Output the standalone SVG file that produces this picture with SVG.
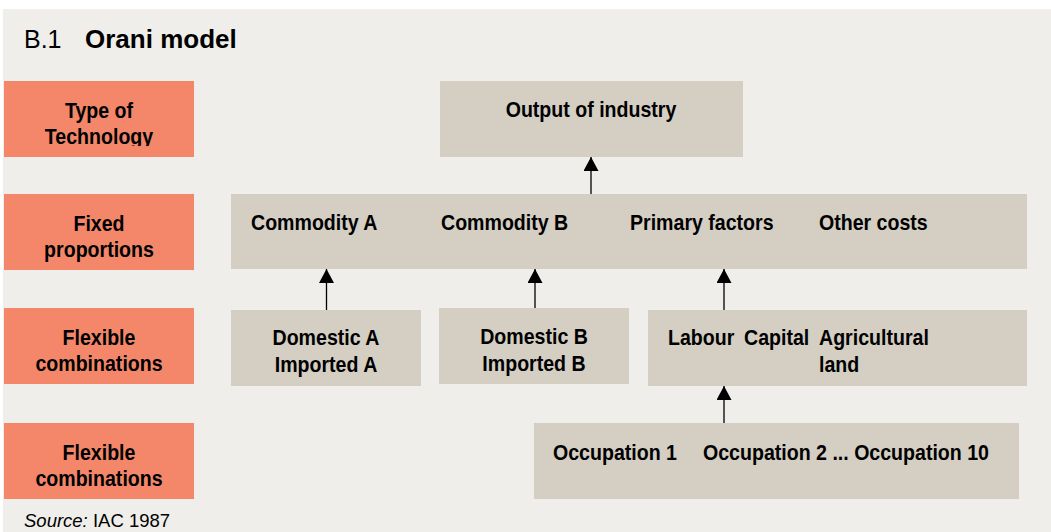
<svg xmlns="http://www.w3.org/2000/svg" width="1051" height="532" viewBox="0 0 1051 532">
  <style>
    text { font-family: "Liberation Sans", Arial, sans-serif; fill: #000; }
    .b { font-weight: bold; font-size: 22px; }
    .mid { text-anchor: middle; }
    .tier { fill: #f4876a; }
    .box { fill: #d4cec3; }
    .link { stroke: #000; stroke-width: 1.3; fill: none; marker-end: url(#head); }
  </style>
  <defs>
    <marker id="head" markerUnits="userSpaceOnUse" markerWidth="15" markerHeight="15" viewBox="0 0 14 15" refX="14" refY="7.5" orient="auto">
      <path d="M0,0 L14,7.5 L0,15 Z" fill="#000"/>
    </marker>
    <clipPath id="cut1">
      <rect x="4" y="81" width="190" height="65"/>
    </clipPath>
  </defs>

  <!-- panel -->
  <rect x="0" y="0" width="1051" height="532" fill="#ffffff"/>
  <rect x="3" y="9" width="1048" height="523" fill="#efeeea"/>

  <!-- title -->
  <text x="24" y="48" font-size="25">B.1</text>
  <text x="85" y="48" font-size="26" font-weight="bold">Orani model</text>

  <!-- tier labels (narrow bold type: x-scaled) -->
  <g id="tier-technology">
    <rect class="tier" x="4" y="81" width="190" height="76"/>
    <g clip-path="url(#cut1)">
      <text class="b mid" transform="translate(99,118) scale(0.89,1)">Type of</text>
      <text class="b mid" transform="translate(99,144) scale(0.89,1)">Technology</text>
    </g>
  </g>
  <g id="tier-fixed">
    <rect class="tier" x="4" y="194" width="190" height="76"/>
    <text class="b mid" transform="translate(99,231) scale(0.89,1)">Fixed</text>
    <text class="b mid" transform="translate(99,257) scale(0.89,1)">proportions</text>
  </g>
  <g id="tier-flexible-1">
    <rect class="tier" x="4" y="308" width="190" height="76"/>
    <text class="b mid" transform="translate(99,345) scale(0.89,1)">Flexible</text>
    <text class="b mid" transform="translate(99,371) scale(0.89,1)">combinations</text>
  </g>
  <g id="tier-flexible-2">
    <rect class="tier" x="4" y="423" width="190" height="76"/>
    <text class="b mid" transform="translate(99,460) scale(0.89,1)">Flexible</text>
    <text class="b mid" transform="translate(99,486) scale(0.89,1)">combinations</text>
  </g>

  <!-- nodes -->
  <g id="output">
    <rect class="box" x="440" y="81" width="303" height="76"/>
    <text class="b mid" transform="translate(591,117) scale(0.89,1)">Output of industry</text>
  </g>
  <g id="inputs">
    <rect class="box" x="231" y="194" width="796" height="75"/>
    <text class="b" transform="translate(251,230) scale(0.89,1)">Commodity A</text>
    <text class="b" transform="translate(441,230) scale(0.89,1)">Commodity B</text>
    <text class="b" transform="translate(630,230) scale(0.89,1)">Primary factors</text>
    <text class="b" transform="translate(819,230) scale(0.89,1)">Other costs</text>
  </g>
  <g id="commodity-a">
    <rect class="box" x="231" y="310" width="190" height="76"/>
    <text class="b mid" transform="translate(326,345) scale(0.89,1)">Domestic A</text>
    <text class="b mid" transform="translate(326,372) scale(0.89,1)">Imported A</text>
  </g>
  <g id="commodity-b">
    <rect class="box" x="439" y="308" width="190" height="76"/>
    <text class="b mid" transform="translate(534,344) scale(0.89,1)">Domestic B</text>
    <text class="b mid" transform="translate(534,371) scale(0.89,1)">Imported B</text>
  </g>
  <g id="primary-factors">
    <rect class="box" x="648" y="310" width="379" height="76"/>
    <text class="b" transform="translate(668,345) scale(0.89,1)">Labour</text>
    <text class="b" transform="translate(744,345) scale(0.89,1)">Capital</text>
    <text class="b" transform="translate(819,345) scale(0.89,1)">Agricultural</text>
    <text class="b" transform="translate(819,372) scale(0.89,1)">land</text>
  </g>
  <g id="occupations">
    <rect class="box" x="534" y="423" width="485" height="76"/>
    <text class="b" transform="translate(553,460) scale(0.89,1)">Occupation 1</text>
    <text class="b" transform="translate(703,460) scale(0.89,1)">Occupation 2 ... Occupation 10</text>
  </g>

  <!-- connectors -->
  <g id="connectors">
    <path class="link" d="M591,194 V157"/>
    <path class="link" d="M326.5,310 V269"/>
    <path class="link" d="M535,308 V269"/>
    <path class="link" d="M724,310 V269"/>
    <path class="link" d="M724,423 V386"/>
  </g>

  <!-- source -->
  <text x="24" y="527" font-size="18.5"><tspan font-style="italic">Source:</tspan> IAC 1987</text>
</svg>
